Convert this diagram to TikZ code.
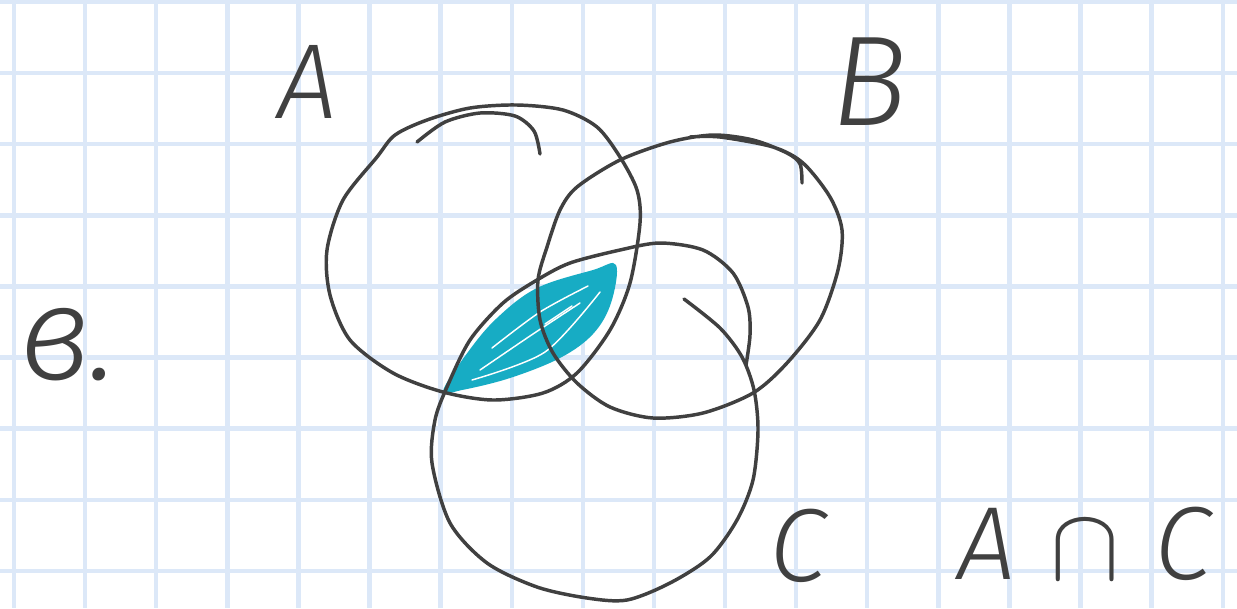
\documentclass[tikz,border=0pt]{standalone}
\usepackage{fix-cm}
\usepackage{fontspec}
\newfontfamily\handfont{Fira Sans Light Italic}
\tikzset{every picture/.style={line width=0.75pt}}
\definecolor{gridblue}{RGB}{220,232,248}
\definecolor{pencil}{RGB}{64,64,64}
\definecolor{marker}{RGB}{23,172,196}
\tikzset{
  gridline/.style={draw=gridblue,line width=3.3pt},
  pen/.style={draw=pencil,line width=2.6pt,line cap=round,line join=round},
  hand/.style={inner sep=0.75pt,text=pencil,font=\handfont},
}

\begin{document}
\begin{tikzpicture}[x=0.75pt,y=0.75pt,yscale=-1,xscale=1]
\useasboundingbox (0,0) rectangle (1237,608);
\fill [white] (0,0) rectangle (1237,608);

%Grid
\foreach \i in {0,...,17} {
  \draw [gridline] (14+71.1*\i,0) -- (14+71.1*\i,608) ;
}
\foreach \j in {0,...,8} {
  \draw [gridline] (0,2+71.1*\j) -- (1237,2+71.1*\j) ;
}

%Shaded part A and C
\fill [marker] plot [smooth cycle,tension=0.6] coordinates {(443,391) (468,352) (497,318) (537,288) (593,270) (616,265) (611,303) (593,334) (560,358) (510,378) (462,390)} ;
\draw [white,line width=1.1pt,line cap=round] plot [smooth] coordinates {(480,370) (530,336) (580,303)} ;
\draw [white,line width=1.1pt,line cap=round] plot [smooth] coordinates {(492,348) (540,312) (588,286)} ;
\draw [white,line width=1.1pt,line cap=round] plot [smooth] coordinates {(472,380) (545,352) (600,292)} ;
\draw [white,line width=1.1pt,line cap=round] plot [smooth] coordinates {(545,324) (572,306)} ;

%Circle A
\draw [pen] plot [smooth cycle] coordinates {(395,135) (377,157) (343,200) (327,250) (330,295) (350,340) (393,373) (443,392) (493,400) (543,393) (577,373) (610,330) (630,283) (640,223) (637,190) (620,157) (597,127) (563,110) (517,105) (470,108) (427,120)} ;
\draw [pen] plot [smooth] coordinates {(417,142) (445,122) (480,113) (515,116) (534,131) (540,154)} ;

%Circle B
\draw [pen] plot [smooth] coordinates {(802,183) (800,164) (787,153) (753,140) (713,135) (670,142) (620,160) (577,187) (560,210) (547,247) (538,280) (540,320) (553,353) (577,383) (610,407) (653,418) (703,413) (753,393) (787,363) (820,320) (838,270) (842,230) (830,197) (803,163) (773,147) (720,137) (690,137)} ;

%Circle C
\draw [pen] plot [smooth] coordinates {(684,299) (720,328) (742,357) (754,390) (758,430) (753,480) (737,520) (710,557) (670,583) (627,600) (587,598) (537,587) (487,563) (450,523) (432,463) (435,420) (447,387) (470,340) (503,303) (537,280) (570,263) (620,250) (660,243) (703,250) (733,273) (748,307) (750,335) (746,365)} ;

%Labels
\node [hand,font=\handfont\fontsize{80}{80}\selectfont] (labA) at (307,82) {A} ;
\node [hand,font=\handfont\fontsize{96}{96}\selectfont] (labB) at (870,82) {B} ;
\node [hand,font=\handfont\fontsize{100}{100}\selectfont] (labItem) at (68,345) {в.} ;
\node [hand,font=\handfont\fontsize{78}{78}\selectfont] (labC) at (798,546) {C} ;
\node [hand,font=\handfont\fontsize{78}{78}\selectfont] (labAC) at (1084,544) {A\,\,$\cap$\,\,C} ;

\end{tikzpicture}
\end{document}
